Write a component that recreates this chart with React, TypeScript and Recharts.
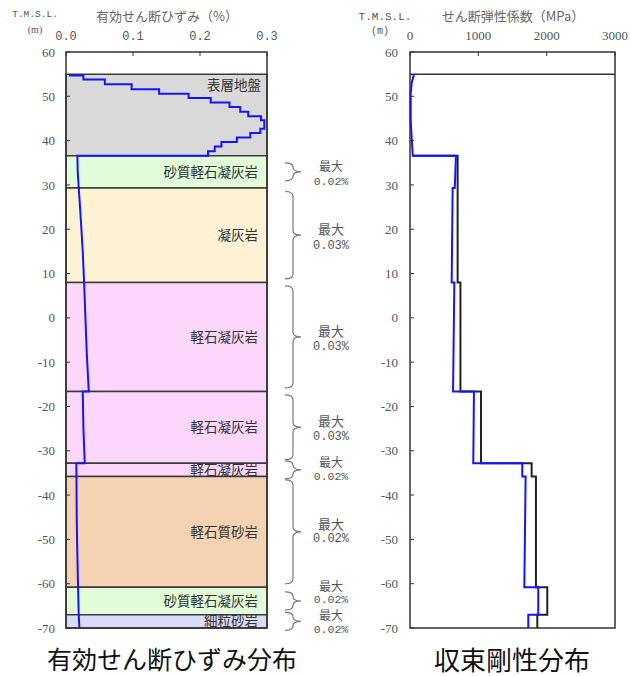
import React from 'react';
import { LineChart, Line, XAxis, YAxis, ReferenceArea, ReferenceLine } from 'recharts';

// 標高 T.M.S.L. (m)
const elevTicks = [60, 50, 40, 30, 20, 10, 0, -10, -20, -30, -40, -50, -60, -70];
const strainTicks = [0, 0.1, 0.2, 0.3];
const modulusTicks = [0, 1000, 2000, 3000];

// 地層区分
const layerNames = ['表層地盤', '砂質軽石凝灰岩', '凝灰岩', '軽石凝灰岩', '軽石凝灰岩', '軽石凝灰岩', '軽石質砂岩', '砂質軽石凝灰岩', '細粒砂岩'];
const layerTops = [55, 36.6, 29.3, 8.0, -16.6, -32.8, -35.8, -60.8, -67.0];
const layerBottoms = [36.6, 29.3, 8.0, -16.6, -32.8, -35.8, -60.8, -67.0, -70];
const layerColors = ['#d9d9d9', '#e2fbd9', '#fdf3d4', '#fdd6fc', '#fdd6fc', '#fdd6fc', '#f5d3b2', '#e2fbd9', '#dadafb'];

// 最大ひずみの注記 (表層地盤より下の各層)
const maxStrainNotes = ['0.02%', '0.03%', '0.03%', '0.03%', '0.02%', '0.02%', '0.02%', '0.02%'];
const noteLineOffsets = [[-6.5, 10], [-6.5, 11], [-6, 10.5], [-7, 9.5], [-8, 6.5], [-8.5, 7], [-15.5, -1], [-6.5, 8]];

// 表層地盤の有効せん断ひずみ (%) — 細分層ごとの値
const surfaceDepths = [55, 54.7, 53.8, 52.7, 51.6, 50.6, 49.6, 48.6, 47.6, 46.5, 45.5, 44.6, 42.7, 41.7, 40.7, 39.7, 38.7, 37.6, 36.6];
const surfaceStrain = [0.006, 0.026, 0.058, 0.098, 0.139, 0.183, 0.216, 0.244, 0.26, 0.272, 0.291, 0.296, 0.29, 0.275, 0.255, 0.232, 0.222, 0.212];

// 岩盤部の有効せん断ひずみ (%)
const rockElev = [36.6, 33, 29.3, 25, 20, 15, 8, 0, -8, -16.6, -16.6, -25, -32.8, -32.8, -35.8, -45, -50, -60.8, -67, -70];
const rockStrain = [0.017, 0.0175, 0.019, 0.021, 0.023, 0.025, 0.027, 0.029, 0.031, 0.034, 0.025, 0.026, 0.028, 0.0154, 0.0156, 0.016, 0.0165, 0.018, 0.019, 0.02];

// せん断弾性係数 (MPa) 収束値
const convElev = [55, 53, 50.6, 45, 43, 37, 36.6, 36.6, 29.3, 29.3, 8, 8, -16.6, -16.6, -32.8, -32.8, -35.8, -35.8, -60.8, -60.8, -67, -67, -70];
const convG = [58, 25, 10, 10, 15, 39, 40, 673, 655, 624, 610, 649, 630, 936, 926, 1643, 1643, 1692, 1673, 1877, 1877, 1731, 1731];

// せん断弾性係数 (MPa) 初期値
const initElev = [36.6, 36.6, 8, 8, -16.6, -16.6, -32.8, -32.8, -35.8, -35.8, -60.8, -60.8, -67, -67, -70];
const initG = [40, 697, 697, 738, 738, 1039, 1039, 1780, 1780, 1843, 1843, 2009, 2009, 1863, 1863];

const strainData: { elev: number; v: number }[] = [];
surfaceStrain.forEach((v, i) => {
  strainData.push({ elev: surfaceDepths[i], v });
  strainData.push({ elev: surfaceDepths[i + 1], v });
});
rockElev.forEach((e, i) => strainData.push({ elev: e, v: rockStrain[i] }));

const convData = convElev.map((e, i) => ({ elev: e, g: convG[i] }));
const initData = initElev.map((e, i) => ({ elev: e, g: initG[i] }));

const JP = '"Noto Sans CJK JP", "Noto Sans", sans-serif';
const SERIF = '"Liberation Serif", "DejaVu Serif", serif';
const MONO = '"Liberation Mono", "DejaVu Sans Mono", monospace';

const BraceNote = (props: any) => {
  const { x, y, width, height, note, offsets } = props;
  const right = x + width;
  const mid = y + height / 2;
  const h = height > 40 ? height - 7 : 18;
  const top = mid - h / 2;
  const bot = mid + h / 2;
  const x0 = right + 18;
  const xv = right + 26;
  const xt = right + 34;
  const r = Math.min(5, h / 4);
  const d = `M${x0},${top} Q${xv},${top} ${xv},${top + r} L${xv},${mid - r} Q${xv},${mid} ${xt},${mid} Q${xv},${mid} ${xv},${mid + r} L${xv},${bot - r} Q${xv},${bot} ${x0},${bot}`;
  const tight = height < 40;
  return (
    <g>
      <path d={d} fill="none" stroke="#777" strokeWidth={1.2} />
      <text x={right + 64} y={mid + offsets[0]} textAnchor="middle" dominantBaseline="central" fill="#555" fontSize={tight ? 12 : 13} fontFamily={JP}>
        最大
      </text>
      <text x={right + 64} y={mid + offsets[1]} textAnchor="middle" dominantBaseline="central" fill="#555" fontSize={tight ? 11.5 : 12} fontFamily={MONO}>
        {note}
      </text>
    </g>
  );
};

const yTick = { fill: '#555', fontSize: 13, fontFamily: SERIF };

const StrainChart = () => (
  <LineChart
    width={380}
    height={640}
    layout="vertical"
    margin={{ top: 30, right: 113, bottom: 12, left: 36 }}
  >
    {layerNames.map((name, i) => (
      <ReferenceArea
        key={'l' + i}
        x1={0}
        x2={0.3}
        y1={layerBottoms[i]}
        y2={layerTops[i]}
        fill={layerColors[i]}
        fillOpacity={1}
        stroke="#3a3a3a"
        strokeWidth={1.5}
        ifOverflow="visible"
        label={{
          value: name,
          position: i === 0 ? 'insideTopRight' : 'insideRight',
          offset: i === 0 ? 6 : 9,
          fill: '#333',
          fontSize: 13.5,
          fontFamily: JP,
        }}
      />
    ))}
    {maxStrainNotes.map((note, i) => (
      <ReferenceArea
        key={'n' + i}
        x1={0}
        x2={0.3}
        y1={layerBottoms[i + 1]}
        y2={layerTops[i + 1]}
        ifOverflow="visible"
        shape={(p: any) => <BraceNote {...p} note={note} offsets={noteLineOffsets[i]} />}
      />
    ))}
    <ReferenceArea x1={0} x2={0.3} y1={-70} y2={60} fill="none" stroke="#333" strokeWidth={1.5} ifOverflow="visible" />
    <Line data={strainData} dataKey="v" type="linear" stroke="#1414ff" strokeWidth={2} dot={false} isAnimationActive={false} />
    <XAxis
      type="number"
      orientation="top"
      domain={[0, 0.3]}
      ticks={strainTicks}
      interval={0}
      height={22}
      axisLine={false}
      tickSize={-4}
      tickMargin={16}
      tickLine={{ stroke: '#333' }}
      tickFormatter={(v: number) => v.toFixed(1)}
      tick={{ fill: '#555', fontSize: 12, fontFamily: MONO }}
    />
    <YAxis
      type="number"
      dataKey="elev"
      reversed
      domain={[-70, 60]}
      ticks={elevTicks}
      interval={0}
      width={30}
      axisLine={false}
      tickSize={-4}
      tickMargin={15}
      tickLine={{ stroke: '#333' }}
      tick={yTick}
    />
  </LineChart>
);

const ModulusChart = () => (
  <LineChart
    width={291}
    height={640}
    layout="vertical"
    margin={{ top: 30, right: 16, bottom: 12, left: 40 }}
  >
    <ReferenceArea x1={0} x2={3000} y1={-70} y2={60} fill="none" stroke="#333" strokeWidth={1.5} ifOverflow="visible" />
    <ReferenceLine y={55} stroke="#333" strokeWidth={1.5} />
    <Line data={initData} dataKey="g" type="linear" stroke="#222" strokeWidth={2} dot={false} isAnimationActive={false} />
    <Line data={convData} dataKey="g" type="linear" stroke="#1414ff" strokeWidth={2} dot={false} isAnimationActive={false} />
    <XAxis
      type="number"
      orientation="top"
      domain={[0, 3000]}
      ticks={modulusTicks}
      interval={0}
      height={22}
      axisLine={false}
      tickSize={-4}
      tickMargin={16}
      tickLine={{ stroke: '#333' }}
      tick={{ fill: '#555', fontSize: 13, fontFamily: SERIF }}
    />
    <YAxis
      type="number"
      dataKey="elev"
      reversed
      domain={[-70, 60]}
      ticks={elevTicks}
      interval={0}
      width={30}
      axisLine={false}
      tickSize={-4}
      tickMargin={16}
      tickLine={{ stroke: '#333' }}
      tick={yTick}
    />
  </LineChart>
);

const abs = (left: number, top: number, style: React.CSSProperties): React.CSSProperties => ({
  position: 'absolute',
  left,
  top,
  transform: 'translate(-50%, -50%)',
  whiteSpace: 'nowrap',
  lineHeight: 1.3,
  ...style,
});

export default function App() {
  return (
    <div style={{ position: 'absolute', left: 0, top: 0, width: 631, height: 676, background: '#fff' }}>
      <div style={{ position: 'absolute', left: 0, top: 0 }}>
        <StrainChart />
      </div>
      <div style={{ position: 'absolute', left: 340, top: 0 }}>
        <ModulusChart />
      </div>
      <div style={abs(35, 15, { fontFamily: MONO, fontSize: 9.5, color: '#555' })}>T.M.S.L.</div>
      <div style={abs(35, 29, { fontFamily: SERIF, fontSize: 10, color: '#555' })}>(m)</div>
      <div style={abs(167, 16, { fontFamily: JP, fontSize: 13, color: '#666' })}>有効せん断ひずみ（%）</div>
      <div style={abs(385, 17, { fontFamily: MONO, fontSize: 11, color: '#555' })}>T.M.S.L.</div>
      <div style={abs(380, 31, { fontFamily: MONO, fontSize: 10, color: '#555' })}>(m)</div>
      <div style={abs(513, 16, { fontFamily: JP, fontSize: 13, color: '#666' })}>せん断弾性係数（MPa）</div>
      <div style={abs(172, 659, { fontFamily: JP, fontSize: 25, color: '#111', lineHeight: 1.1 })}>有効せん断ひずみ分布</div>
      <div style={abs(512, 659, { fontFamily: JP, fontSize: 26, color: '#111', lineHeight: 1.1 })}>収束剛性分布</div>
    </div>
  );
}
